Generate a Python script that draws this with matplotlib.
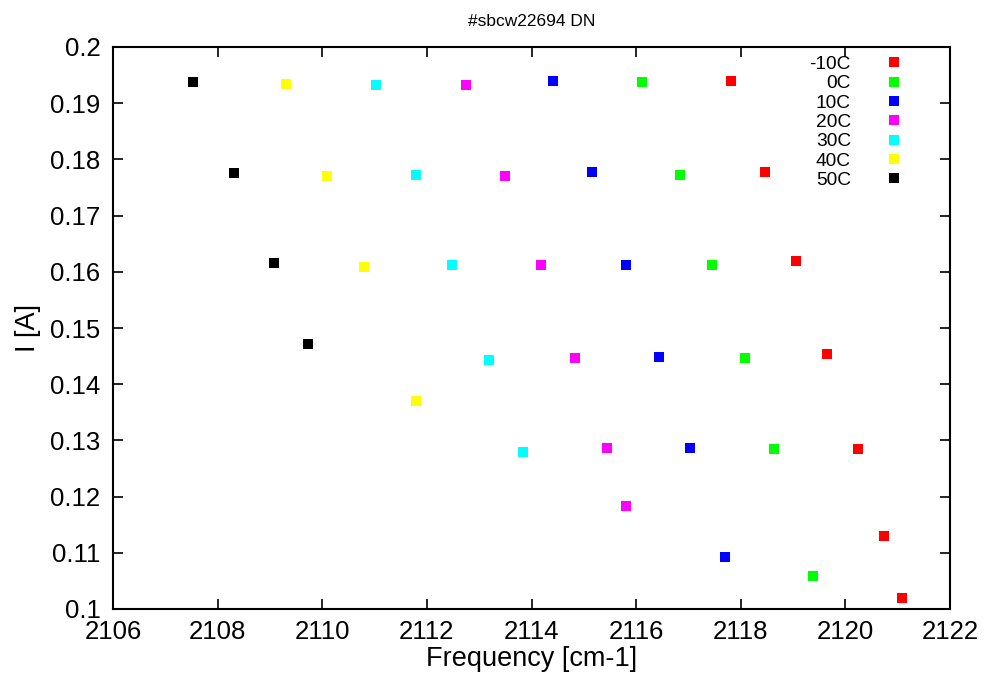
import numpy as np
import matplotlib
matplotlib.use('Agg')
import matplotlib.pyplot as plt

plt.rcParams['font.family'] = ['Liberation Sans', 'DejaVu Sans']

# frequency [cm-1] and current [A] for each temperature
labels = ['-10C', '0C', '10C', '20C', '30C', '40C', '50C']
colors = ['#ff0000', '#00ff00', '#0000ff', '#ff00ff', '#00ffff', '#ffff00', '#000000']

freq_m10 = [2117.81, 2118.46, 2119.06, 2119.65, 2120.24, 2120.74, 2121.08]
curr_m10 = [0.1940, 0.1778, 0.1619, 0.1454, 0.1284, 0.1130, 0.1019]
freq_0 = [2116.11, 2116.84, 2117.45, 2118.08, 2118.64, 2119.38]
curr_0 = [0.1938, 0.1772, 0.1612, 0.1446, 0.1285, 0.1058]
freq_10 = [2114.41, 2115.16, 2115.81, 2116.44, 2117.03, 2117.70]
curr_10 = [0.1940, 0.1778, 0.1612, 0.1448, 0.1287, 0.1092]
freq_20 = [2112.75, 2113.49, 2114.18, 2114.83, 2115.44, 2115.81]
curr_20 = [0.1933, 0.1770, 0.1612, 0.1446, 0.1287, 0.1184]
freq_30 = [2111.03, 2111.79, 2112.48, 2113.19, 2113.84]
curr_30 = [0.1933, 0.1773, 0.1612, 0.1443, 0.1280]
freq_40 = [2109.31, 2110.09, 2110.80, 2111.79]
curr_40 = [0.1935, 0.1770, 0.1609, 0.1370]
freq_50 = [2107.53, 2108.31, 2109.08, 2109.73]
curr_50 = [0.1938, 0.1775, 0.1615, 0.1471]

series = [(freq_m10, curr_m10), (freq_0, curr_0), (freq_10, curr_10),
          (freq_20, curr_20), (freq_30, curr_30), (freq_40, curr_40),
          (freq_50, curr_50)]

fig = plt.figure(figsize=(9.86, 6.75), dpi=100)
ax = fig.add_axes([113/986, 1 - 609/675, (950-113)/986, (609-47)/675])

for (f, c), lab, col in zip(series, labels, colors):
    ax.plot(f, c, 's', color=col, markersize=7, markeredgewidth=0, label=lab)

ax.set_xlim(2106, 2122)
ax.set_ylim(0.1, 0.2)
ax.set_xticks(np.arange(2106, 2123, 2))
ax.set_yticks(np.round(np.arange(0.1, 0.2001, 0.01), 2))
ax.set_yticklabels(['0.1', '0.11', '0.12', '0.13', '0.14', '0.15', '0.16',
                    '0.17', '0.18', '0.19', '0.2'])
ax.tick_params(direction='in', top=True, right=True, length=7, width=1.2,
               labelsize=18.5)
ax.tick_params(axis='x', pad=8)
ax.tick_params(axis='y', pad=9)
for s in ax.spines.values():
    s.set_linewidth(1.5)

ax.set_xlabel('Frequency [cm-1]', fontsize=19.5, labelpad=1)
ax.set_ylabel('I [A]', fontsize=19.5, labelpad=7)
ax.set_title('#sbcw22694 DN', fontsize=12.5, pad=15)

ax.legend(loc='upper right', bbox_to_anchor=(0.963, 1.012), frameon=False,
          markerfirst=False, fontsize=13.8, handlelength=1.0, handletextpad=1.75,
          labelspacing=0.1, borderpad=0.3, numpoints=1)

fig.savefig('out.png', dpi=100)
